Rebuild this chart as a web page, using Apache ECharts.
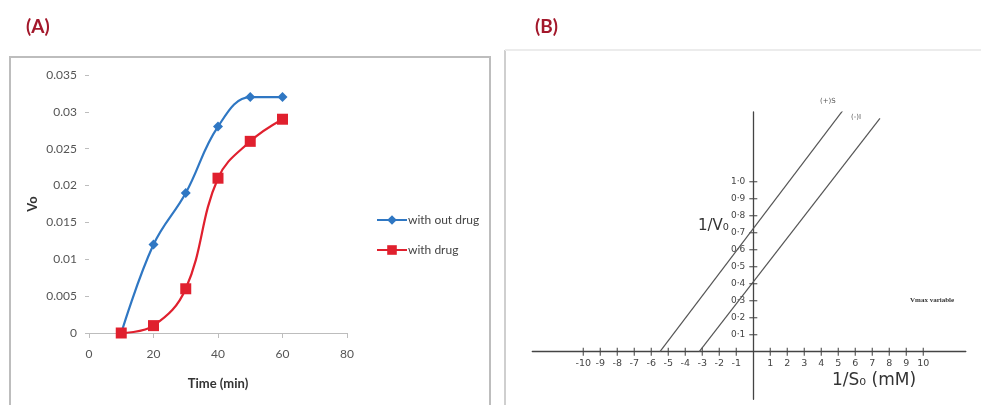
<!DOCTYPE html>
<html>
<head>
<meta charset="utf-8">
<script src="https://cdn.jsdelivr.net/npm/echarts@6/dist/echarts.min.js"></script>
<style>html,body{margin:0;padding:0;background:#fff;}#c{width:981px;height:405px;}</style>
</head>
<body>
<div id="c"></div>
<script>
// ---- Panel A data ----
const timeMin = [10, 20, 30, 40, 50, 60];
const withoutDrug = [0, 0.012, 0.019, 0.028, 0.032, 0.032];
const withDrug = [0, 0.001, 0.006, 0.021, 0.026, 0.029];
const seriesNamesA = ['with out drug', 'with drug'];

// ---- Panel B data ----
const invSTicks = [-10, -9, -8, -7, -6, -5, -4, -3, -2, -1, 1, 2, 3, 4, 5, 6, 7, 8, 9, 10];
const invVTicks = [0.1, 0.2, 0.3, 0.4, 0.5, 0.6, 0.7, 0.8, 0.9, 1.0];
const upperLine = [[-5.49, 0], [5.85, 1.496]];
const lowerLine = [[-3.18, 0], [7.45, 1.373]];
const upperSquares = [[2, 0.99]];
const upperCircles = [[2, 0.975], [2.05, 0.95]];
const lowerSquares = [[1.02, 0.55]];
const lowerCircles = [[1.02, 0.525]];

const pairs = (xs, ys) => xs.map((x, i) => [x, ys[i]]);
const fontA = 'Lato, "Open Sans", sans-serif';
const fontB = '"DejaVu Sans", sans-serif';

// Panel B grid geometry (axes cross at zero)
const bX = {min: -13, max: 12.5}, bY = {min: -0.28, max: 1.41};
const gB = {left: 532.3, right: 15.2, top: 112, bottom: 5.7};
const gBw = 981 - gB.left - gB.right, gBh = 405 - gB.top - gB.bottom;
const zeroFromBottom = gBh * (0 - bY.min) / (bY.max - bY.min);
const zeroFromLeft = gBw * (0 - bX.min) / (bX.max - bX.min);

const chart = echarts.init(document.getElementById('c'), null, {renderer: 'canvas'});
chart.setOption({
  backgroundColor: '#fff',
  animation: false,
  title: [
    {text: '(A)', left: 21, top: 12, textStyle: {fontFamily: fontA, fontSize: 19, fontWeight: 'bold', color: '#a3182b'}},
    {text: '(B)', left: 530, top: 12, textStyle: {fontFamily: fontA, fontSize: 19, fontWeight: 'bold', color: '#a3182b'}}
  ],
  graphic: [
    {type: 'rect', shape: {x: 10, y: 57, width: 480, height: 370}, style: {fill: 'none', stroke: '#bdbdbd', lineWidth: 2}, z: -1},
    {type: 'line', shape: {x1: 505, y1: 50, x2: 505, y2: 410}, style: {stroke: '#cfcfcf', lineWidth: 2}, z: -1},
    {type: 'line', shape: {x1: 505, y1: 50, x2: 985, y2: 50}, style: {stroke: '#ececec', lineWidth: 2}, z: -1},
    {type: 'text', x: 698, y: 219, style: {text: '1/V₀', font: '15px ' + fontB, fill: '#333'}},
    {type: 'text', x: 832, y: 372, style: {text: '1/S₀ (mM)', font: '17px ' + fontB, fill: '#333'}},
    {type: 'text', x: 820, y: 98, style: {text: '(+)S', font: '7px ' + fontB, fill: '#555'}},
    {type: 'text', x: 851, y: 114, style: {text: '(-)I', font: '7px ' + fontB, fill: '#555'}},
    {type: 'text', x: 910, y: 297, style: {text: 'Vmax variable', font: 'bold 7px "Liberation Serif", serif', fill: '#333'}}
  ],
  legend: {
    orient: 'vertical', left: 371, top: 209, itemWidth: 30, itemHeight: 12, itemGap: 18,
    data: seriesNamesA,
    textStyle: {fontFamily: fontA, fontSize: 12, color: '#444', padding: [0, 0, 0, -4]}
  },
  grid: [
    {left: 89, right: 634, top: 75, bottom: 72, containLabel: false},
    {left: gB.left, right: gB.right, top: gB.top, bottom: gB.bottom, containLabel: false}
  ],
  xAxis: [
    {
      gridIndex: 0, type: 'value', min: 0, max: 80, interval: 20,
      name: 'Time (min)', nameLocation: 'middle', nameGap: 44,
      nameTextStyle: {fontFamily: fontA, fontSize: 13, fontWeight: 'bold', color: '#333'},
      axisLine: {show: true, lineStyle: {color: '#bdbdbd', width: 1}},
      axisTick: {show: true, length: 5, lineStyle: {color: '#bdbdbd'}},
      axisLabel: {fontFamily: fontA, fontSize: 12, color: '#555', margin: 15},
      splitLine: {show: false}
    },
    {
      gridIndex: 1, type: 'value', min: bX.min, max: bX.max, interval: 1,
      position: 'bottom', offset: -zeroFromBottom,
      axisLine: {show: true, onZero: false, lineStyle: {color: '#444', width: 1.3}},
      axisTick: {show: false},
      axisLabel: {customValues: invSTicks, fontFamily: fontB, fontSize: 9.5, color: '#444', margin: 7},
      splitLine: {show: false}
    }
  ],
  yAxis: [
    {
      gridIndex: 0, type: 'value', min: 0, max: 0.035, interval: 0.005,
      name: 'Vo', nameLocation: 'middle', nameGap: 50, nameRotate: 90,
      nameTextStyle: {fontFamily: fontA, fontSize: 13, fontWeight: 'bold', color: '#333'},
      axisLine: {show: false},
      axisTick: {show: true, length: 4, lineStyle: {color: '#bdbdbd'}},
      axisLabel: {fontFamily: fontA, fontSize: 12, color: '#555', margin: 12},
      splitLine: {show: false}
    },
    {
      gridIndex: 1, type: 'value', min: bY.min, max: bY.max,
      position: 'left', offset: -zeroFromLeft,
      axisLine: {show: true, onZero: false, lineStyle: {color: '#444', width: 1.3}},
      axisTick: {show: false},
      axisLabel: {customValues: invVTicks, fontFamily: fontB, fontSize: 9, color: '#444', margin: 8,
        formatter: v => v.toFixed(1).replace('.', '·')},
      splitLine: {show: false}
    }
  ],
  series: [
    {
      name: seriesNamesA[0], type: 'line', xAxisIndex: 0, yAxisIndex: 0,
      data: pairs(timeMin, withoutDrug), smooth: 0.4,
      symbol: 'diamond', symbolSize: 10,
      lineStyle: {color: '#2f77c3', width: 2.2}, itemStyle: {color: '#2f77c3'}
    },
    {
      name: seriesNamesA[1], type: 'line', xAxisIndex: 0, yAxisIndex: 0,
      data: pairs(timeMin, withDrug), smooth: 0.4,
      symbol: 'rect', symbolSize: 11,
      lineStyle: {color: '#e0202e', width: 2.2}, itemStyle: {color: '#e0202e'}
    },
    {
      type: 'scatter', xAxisIndex: 1, yAxisIndex: 1, silent: true,
      data: invSTicks.map(v => [v, 0]), symbol: 'rect', symbolSize: [1.3, 8],
      itemStyle: {color: '#444'}
    },
    {
      type: 'scatter', xAxisIndex: 1, yAxisIndex: 1, silent: true,
      data: invVTicks.map(v => [0, v]), symbol: 'rect', symbolSize: [8, 1.3],
      itemStyle: {color: '#444'}
    },
    {
      type: 'line', xAxisIndex: 1, yAxisIndex: 1, silent: true, data: upperLine,
      symbol: 'none', lineStyle: {color: '#555', width: 1.2}
    },
    {
      type: 'line', xAxisIndex: 1, yAxisIndex: 1, silent: true, data: lowerLine,
      symbol: 'none', lineStyle: {color: '#555', width: 1.2}
    },
    {
      type: 'scatter', xAxisIndex: 1, yAxisIndex: 1, silent: true,
      data: upperSquares.concat(lowerSquares), symbol: 'emptyRect', symbolSize: 9,
      itemStyle: {color: '#fff', borderColor: '#444', borderWidth: 1.2}
    },
    {
      type: 'scatter', xAxisIndex: 1, yAxisIndex: 1, silent: true,
      data: upperCircles.concat(lowerCircles), symbol: 'emptyCircle', symbolSize: 9,
      itemStyle: {color: '#fff', borderColor: '#444', borderWidth: 1.2}
    }
  ]
});
</script>
</body>
</html>
